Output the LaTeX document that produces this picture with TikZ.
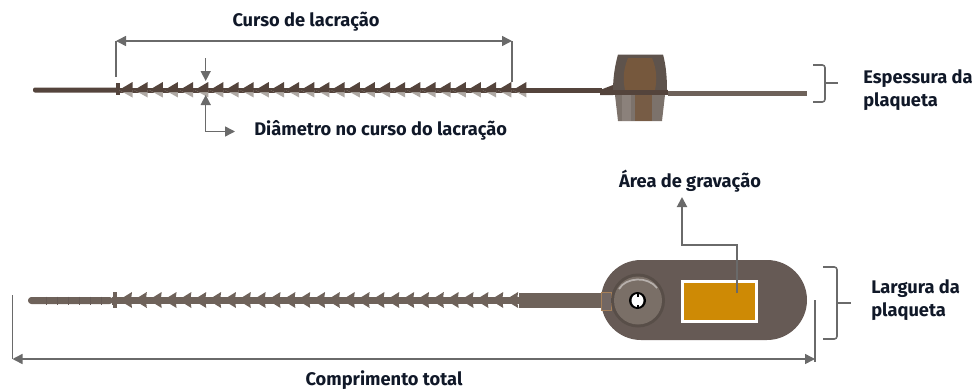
\documentclass[tikz,border=0pt]{standalone}
\usepackage{fontspec}
\setmainfont{Fira Sans}[]
\usetikzlibrary{arrows.meta}
\definecolor{ln}{HTML}{6A6A6A}
\definecolor{brn}{HTML}{6E625A}
\definecolor{dbrn}{HTML}{54443C}
\definecolor{plate}{HTML}{665A55}
\definecolor{orng}{HTML}{CE8A05}
\definecolor{txt}{HTML}{101828}
\tikzset{
 dim/.style={draw=ln,fill=ln,line width=1.1pt},
 plain/.style={draw=ln,line width=1.1pt},
 brace/.style={draw=ln,line width=1.2pt,rounded corners=2pt},
 lbl/.style={font=\fontsize{13.7}{17.5}\selectfont\bfseries,text=txt,inner sep=0pt,align=left},
 tip/.style={-{Triangle[length=7.5pt,width=7.5pt]}},
 tips/.style={{Triangle[length=7.5pt,width=7.5pt]}-{Triangle[length=7.5pt,width=7.5pt]}},
}
\begin{document}
\begin{tikzpicture}[x=0.75pt,y=-0.75pt]
\useasboundingbox (0,0) rectangle (974,389);
% top spike
\fill[dbrn,rounded corners=1.5pt] (33,87.5) -- (118,87.5) -- (118,92.5) -- (33,92.5) -- cycle;
\fill[dbrn] (116,83) rectangle (120,95);
\fill[dbrn] (118,88) rectangle (522,92.5);
\foreach \i in {0,...,26}{
 \pgfmathsetmacro{\xa}{119+15.15*\i}
 \fill[brn!55!white] (\xa,90) -- (\xa+13.5,97.5) -- (\xa+13.5,90) -- cycle;
 \fill[dbrn] (\xa,90) -- (\xa+13.5,82) -- (\xa+13.5,92) -- (\xa+4,92) -- cycle;
}
\fill[dbrn] (520,88) rectangle (602,93);
\fill[dbrn] (600,90) -- (613,85) -- (613,95) -- (600,95) -- cycle;
% top seal
\fill[brn!85!black] (618,54.5) -- (663,54.5) .. controls (666,65) and (667,78) .. (667,90) -- (613,90) .. controls (613,78) and (615,65) .. (618,54.5) -- cycle;
\fill[brn!80!orange!85!black] (628,58) .. controls (623,70) and (623,80) .. (625,90) -- (655,90) .. controls (657,80) and (657,70) .. (652,58) -- cycle;
\fill[brn!90!white] (615,95) -- (665,95) -- (662,121) -- (618,121) -- cycle;
\fill[brn!80!white] (622,95) rectangle (631,121);
\fill[brn!85!orange!90!black] (635,95) rectangle (652,121);
\fill[dbrn] (600,90) rectangle (668,95);
\fill[brn] (668,90.5) rectangle (807,96);
% plate
\fill[plate,rounded corners=30pt] (601,260) rectangle (807,340);
% bottom spike
\fill[brn,rounded corners=2.5pt] (28,297) -- (113,297) -- (113,304) -- (28,304) -- cycle;
\foreach \i in {0,...,6}{\draw[plate,line width=.4pt] (46+11*\i,296.5) -- (46+11*\i,304.5);}
\fill[brn] (113,292) rectangle (117,308);
\fill[brn] (112,297) rectangle (522,303.5);
\foreach \i in {0,...,26}{
 \pgfmathsetmacro{\xa}{119+14.85*\i}
 \fill[brn] (\xa,300) -- (\xa+13,292) -- (\xa+12,300) -- (\xa+13,308) -- cycle;
}
\fill[brn] (519,292.5) rectangle (602,307.5);
\draw[orange!30!gray,line width=.4pt,fill=plate!92!white] (601,292.5) rectangle (611,310);
% grommet
\fill[brn!80!black] (638,300.5) circle[radius=27];
\fill[brn!92!white] (638,300.5) circle[radius=24];
\draw[white!50!brn,line width=1.3pt] (619,289) .. controls (626,277) and (648,276) .. (657,288);
\fill[black] (637.5,300.5) circle[radius=8.5];
\fill[white] (637.5,300.5) ellipse[x radius=6,y radius=6.5];
\fill[black] (636.5,293) rectangle (638.5,296.5);
\fill[black] (636.5,304.5) rectangle (638.5,308);
% engraving area
\node[draw=white,line width=2.2pt,fill=orng,minimum width=56pt,minimum height=30.5pt,inner sep=0pt,anchor=center] (area) at (719.5,301.5) {};
% labels
\node[lbl,anchor=center] (curso) at (306,21.5) {Curso de lacração};
\node[lbl,anchor=west] (diam) at (254,130) {Diâmetro no curso do lacração};
\node[lbl,anchor=west] (esp) at (863,90) {Espessura da\\plaqueta};
\node[lbl,anchor=center] (grav) at (690,181) {Área de gravação};
\node[lbl,anchor=west] (larg) at (871,300) {Largura da\\plaqueta};
\node[lbl,anchor=center] (comp) at (384,380.5) {Comprimento total};
% connectors
\coordinate (cl) at (116,77); \coordinate (cr) at (512,82);
\coordinate (cla) at (116,41); \coordinate (cra) at (512,41);
\draw[plain] (cl) -- (cla);
\draw[plain] (cr) -- (cra);
\draw[dim,tips] (cla) -- (cra);
\coordinate (d1) at (205.7,58); \coordinate (d2) at (205.7,81);
\draw[dim,tip] (d1) -- (d2);
\coordinate (d3) at (205.7,95); \coordinate (d4) at (205.7,131.5); \coordinate (d5) at (235,131.5);
\draw[dim,fill=none,tips] (d3) -- (d4) -- (d5);
\coordinate (a1) at (737,293); \coordinate (a2) at (737,245); \coordinate (a3) at (682,245); \coordinate (a4) at (682,197);
\draw[dim,fill=none,line width=1.5pt,tip] (a1) -- (a2) -- (a3) -- (a4);
\coordinate (t1) at (12.5,295); \coordinate (t2) at (12.5,359); \coordinate (t3) at (815,359); \coordinate (t4) at (815,300); \coordinate (t5) at (815,362);
\draw[plain] (t1) -- (t2);
\draw[plain] (t5) -- (t4);
\draw[dim,tips] (t2) -- (t3);
% braces
\coordinate (b1) at (813,65); \coordinate (b2) at (825,65); \coordinate (b3) at (825,102); \coordinate (b4) at (813,102); \coordinate (b5) at (825,83); \coordinate (b6) at (838,83);
\draw[brace] (b1) -- (b2) -- (b3) -- (b4);
\draw[brace,rounded corners=0pt] (b5) -- (b6);
\coordinate (e1) at (823,267); \coordinate (e2) at (837,267); \coordinate (e3) at (837,339); \coordinate (e4) at (823,339); \coordinate (e5) at (837,303); \coordinate (e6) at (851,303);
\draw[brace] (e1) -- (e2) -- (e3) -- (e4);
\draw[brace,rounded corners=0pt] (e5) -- (e6);
\end{tikzpicture}
\end{document}
